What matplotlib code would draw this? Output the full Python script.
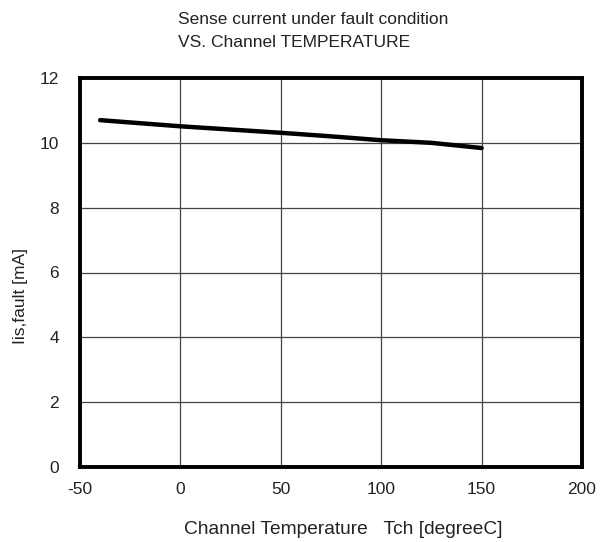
import matplotlib
matplotlib.use("Agg")
import matplotlib.pyplot as plt

plt.rcParams['font.family'] = ['Liberation Sans', 'DejaVu Sans']
plt.rcParams['axes.unicode_minus'] = False

temps = [-40, 0, 25, 50, 75, 100, 125, 150]
current = [10.70, 10.51, 10.41, 10.31, 10.20, 10.08, 10.00, 9.84]
xticks = [-50, 0, 50, 100, 150, 200]
yticks = [0, 2, 4, 6, 8, 10, 12]

TXT = '#222222'
FS = 12.5

fig = plt.figure(figsize=(6.06, 5.42), dpi=100)
ax = fig.add_axes([80/606, 1-467/542, (582-80)/606, (467-78)/542])
ax.plot(temps, current, color='black', linewidth=3.2, solid_capstyle='round')
ax.set_xlim(-50, 200)
ax.set_ylim(0, 12)
ax.set_xticks(xticks)
ax.set_yticks(yticks)
ax.grid(True, color='#444444', linewidth=0.9)
ax.tick_params(length=0, labelsize=FS, labelcolor=TXT)
ax.tick_params(axis='y', pad=15)
ax.tick_params(axis='x', pad=11)
for s in ax.spines.values():
    s.set_linewidth(2.8)
fig.text(184/606, 1-530/542, 'Channel Temperature   Tch [degreeC]', fontsize=13.8,
         color=TXT, ha='left', va='center')
fig.text(21/606, 1-296/542, 'Iis,fault [mA]', fontsize=FS, color=TXT,
         rotation=90, ha='center', va='center')
fig.text(178/606, 1-31/542, 'Sense current under fault condition\nVS. Channel TEMPERATURE',
         fontsize=FS, color=TXT, ha='left', va='center', linespacing=1.6)
fig.savefig('out.png', dpi=100)
